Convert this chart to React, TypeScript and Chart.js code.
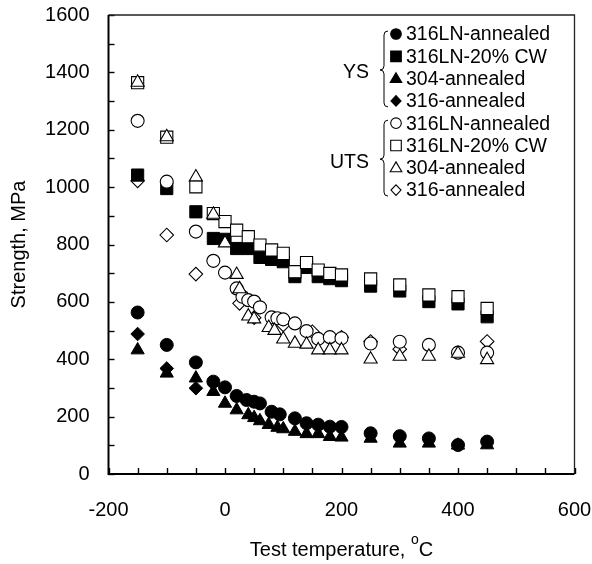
import React, { useEffect, useRef } from 'react';
import { Chart, registerables } from 'chart.js';

Chart.register(...registerables);

// ---- Data (temperature °C, strength MPa) ----
const ys316LNAnnT = [-150, -100, -50, -20, 0, 20, 37, 50, 60, 80, 94, 120, 140, 160, 180, 200, 250, 300, 350, 400, 450];
const ys316LNAnn = [563, 450, 389, 322, 302, 272, 258, 252, 246, 217, 208, 194, 177, 172, 165, 164, 142, 132, 124, 101, 113];

const ys316LNCWT = [-150, -100, -50, -20, 0, 20, 40, 60, 80, 100, 120, 140, 160, 180, 200, 250, 300, 350, 400, 450];
const ys316LNCW = [1042, 995, 914, 821, 818, 786, 786, 755, 748, 740, 688, 720, 688, 681, 674, 655, 638, 601, 593, 548];

const ys304AnnT = [-150, -100, -50, -20, 0, 20, 40, 50, 60, 75, 90, 100, 120, 140, 160, 180, 200, 250, 300, 350, 400, 450];
const ys304Ann = [432, 351, 334, 287, 246, 223, 206, 196, 185, 172, 162, 157, 148, 140, 140, 130, 128, 124, 107, 107, 100, 101];

const ys316AnnT = [-150, -100, -50];
const ys316Ann = [488, 368, 299];

const uts316LNAnnT = [-150, -100, -50, -20, 0, 20, 30, 40, 50, 60, 80, 90, 100, 120, 140, 160, 180, 200, 250, 300, 350, 400, 450];
const uts316LNAnn = [1231, 1019, 845, 743, 702, 647, 618, 606, 601, 581, 546, 543, 539, 525, 498, 471, 477, 473, 455, 461, 450, 423, 423];

const uts316LNCWT = [-150, -100, -50, -20, 0, 20, 40, 60, 80, 100, 120, 140, 160, 180, 200, 250, 300, 350, 400, 450];
const uts316LNCW = [1364, 1174, 1001, 908, 880, 850, 827, 798, 781, 769, 705, 737, 711, 699, 694, 680, 659, 624, 618, 577];

const uts304AnnT = [-150, -100, -50, -20, 0, 20, 25, 40, 50, 75, 85, 100, 120, 140, 160, 180, 200, 250, 300, 350, 400, 450];
const uts304Ann = [1365, 1175, 1035, 905, 805, 695, 645, 550, 540, 510, 500, 470, 455, 452, 432, 432, 432, 400, 410, 410, 420, 398];

const uts316AnnT = [-150, -100, -50, 25, 50, 100, 150, 200, 250, 300, 450];
const uts316Ann = [1022, 833, 697, 595, 545, 520, 496, 476, 462, 435, 462];

const xTickLabels = [-200, 0, 200, 400, 600];
const yTickLabels = [0, 200, 400, 600, 800, 1000, 1200, 1400, 1600];

const legendNames = ['316LN-annealed', '316LN-20% CW', '304-annealed', '316-annealed'];
const groupNames = ['YS', 'UTS'];

const FONT = '"Liberation Sans", Arial, Helvetica, sans-serif';

type Shape = 'circle' | 'rect' | 'triangle' | 'rectRot';

const pts = (t: number[], v: number[]) => t.map((x, i) => ({ x, y: v[i] }));

const radiusFor: Record<Shape, number> = { circle: 6.5, rect: 8.6, triangle: 7.6, rectRot: 6.8 };

function drawMarker(ctx: CanvasRenderingContext2D, shape: Shape, x: number, y: number, filled: boolean, s: number) {
  ctx.beginPath();
  if (shape === 'circle') {
    ctx.arc(x, y, s, 0, Math.PI * 2);
  } else if (shape === 'rect') {
    ctx.rect(x - s, y - s, 2 * s, 2 * s);
  } else if (shape === 'triangle') {
    const h = s * 1.7;
    ctx.moveTo(x, y - h * 0.6);
    ctx.lineTo(x + s, y + h * 0.4);
    ctx.lineTo(x - s, y + h * 0.4);
    ctx.closePath();
  } else {
    ctx.moveTo(x, y - s);
    ctx.lineTo(x + s * 0.95, y);
    ctx.lineTo(x, y + s);
    ctx.lineTo(x - s * 0.95, y);
    ctx.closePath();
  }
  ctx.fillStyle = filled ? '#000' : '#fff';
  ctx.fill();
  ctx.lineWidth = 1.1;
  ctx.strokeStyle = '#000';
  ctx.stroke();
}

function brace(ctx: CanvasRenderingContext2D, xr: number, top: number, bot: number, cusp: number) {
  const xm = xr - 4;
  const xc = xr - 8;
  ctx.beginPath();
  ctx.moveTo(xr, top);
  ctx.quadraticCurveTo(xm, top, xm, top + 4);
  ctx.lineTo(xm, cusp - 4);
  ctx.quadraticCurveTo(xm, cusp, xc, cusp);
  ctx.quadraticCurveTo(xm, cusp, xm, cusp + 4);
  ctx.lineTo(xm, bot - 4);
  ctx.quadraticCurveTo(xm, bot, xr, bot);
  ctx.lineWidth = 1;
  ctx.strokeStyle = '#000';
  ctx.stroke();
}

const shapes: Shape[] = ['circle', 'rect', 'triangle', 'rectRot'];

const decorPlugin = {
  id: 'decor',
  beforeDatasetsDraw(chart: any) {
    const { ctx, chartArea } = chart;
    const { left, right, top, bottom } = chartArea;
    const xs = chart.scales.x;
    const ys = chart.scales.y;
    ctx.save();
    ctx.strokeStyle = '#000';
    ctx.lineWidth = 1.4;
    for (let v = xs.min; v <= xs.max; v += 50) {
      const px = Math.round(xs.getPixelForValue(v)) + 0.5;
      ctx.beginPath();
      ctx.moveTo(px, bottom);
      ctx.lineTo(px, bottom - 6);
      ctx.stroke();
    }
    for (let v = ys.min; v <= ys.max; v += 100) {
      const py = Math.round(ys.getPixelForValue(v)) + 0.5;
      ctx.beginPath();
      ctx.moveTo(left, py);
      ctx.lineTo(left + 6, py);
      ctx.stroke();
    }
    // frame
    ctx.lineWidth = 1.3;
    ctx.strokeStyle = '#222';
    ctx.beginPath();
    ctx.moveTo(left, top);
    ctx.lineTo(right, top);
    ctx.lineTo(right, bottom);
    ctx.stroke();
    ctx.lineWidth = 2;
    ctx.strokeStyle = '#000';
    ctx.beginPath();
    ctx.moveTo(left, top);
    ctx.lineTo(left, bottom);
    ctx.lineTo(right, bottom);
    ctx.stroke();
    ctx.restore();
  },
  afterDraw(chart: any) {
    const { ctx, chartArea } = chart;
    const { left, right, top, bottom } = chartArea;
    ctx.save();
    ctx.fillStyle = '#000';
    // axis titles
    const TS = 20;
    ctx.font = `${TS}px ${FONT}`;
    ctx.textBaseline = 'middle';
    const t1 = 'Test temperature, ';
    const w1 = ctx.measureText(t1).width;
    ctx.font = `14px ${FONT}`;
    const wo = ctx.measureText('o').width;
    ctx.font = `${TS}px ${FONT}`;
    const wc = ctx.measureText('C').width;
    const total = w1 + wo + wc;
    const sx = (left + right) / 2 - total / 2;
    const ty = 550;
    ctx.textAlign = 'left';
    ctx.fillText(t1, sx, ty);
    ctx.font = `14px ${FONT}`;
    ctx.fillText('o', sx + w1, ty - 10);
    ctx.font = `${TS}px ${FONT}`;
    ctx.fillText('C', sx + w1 + wo, ty);

    ctx.save();
    ctx.translate(19, (top + bottom) / 2);
    ctx.rotate(-Math.PI / 2);
    ctx.textAlign = 'center';
    ctx.fillText('Strength, MPa', 0, 0);
    ctx.restore();

    // legend
    const rowY0 = 34;
    const rowH = 22.3;
    const mx = 396;
    const tx = 406;
    ctx.font = `19.5px ${FONT}`;
    for (let g = 0; g < 2; g++) {
      for (let i = 0; i < 4; i++) {
        const y = rowY0 + (g * 4 + i) * rowH;
        const s = shapes[i];
        const sz = s === 'triangle' ? 5.8 : 5.3;
        drawMarker(ctx, s, mx, y, g === 0, sz);
        ctx.fillStyle = '#000';
        ctx.textAlign = 'left';
        ctx.textBaseline = 'middle';
        ctx.fillText(legendNames[i], tx, y + 1);
      }
      const topY = rowY0 + g * 4 * rowH - 3;
      const botY = rowY0 + (g * 4 + 3) * rowH + 6;
      const cusp = (topY + botY) / 2 + 1;
      brace(ctx, 388, topY, botY, cusp);
      ctx.textAlign = 'right';
      ctx.fillStyle = '#000';
      ctx.fillText(groupNames[g], 369, cusp + 3);
    }
    ctx.restore();
  },
};

export default function App() {
  const ref = useRef<HTMLCanvasElement | null>(null);
  useEffect(() => {
    if (!ref.current) return;
    const mk = (data: { x: number; y: number }[], shape: Shape, filled: boolean, order: number) => ({
      data,
      pointStyle: shape,
      pointRadius: radiusFor[shape],
      pointBackgroundColor: filled ? '#000' : '#fff',
      pointBorderColor: '#000',
      pointBorderWidth: filled ? 1 : 1.1,
      showLine: false,
      order,
    });
    const chart = new Chart(ref.current, {
      type: 'scatter',
      data: {
        datasets: [
          mk(pts(ys316AnnT, ys316Ann), 'rectRot', true, 8),
          mk(pts(ys304AnnT, ys304Ann), 'triangle', true, 7),
          mk(pts(ys316LNAnnT, ys316LNAnn), 'circle', true, 6),
          mk(pts(uts316AnnT, uts316Ann), 'rectRot', false, 5),
          mk(pts(ys316LNCWT, ys316LNCW), 'rect', true, 4),
          mk(pts(uts316LNCWT, uts316LNCW), 'rect', false, 3),
          mk(pts(uts316LNAnnT, uts316LNAnn), 'circle', false, 2),
          mk(pts(uts304AnnT, uts304Ann), 'triangle', false, 1),
        ] as any,
      },
      options: {
        animation: false,
        responsive: false,
        layout: { padding: { left: 8, right: 17.5, top: 15, bottom: 0 } },
        plugins: { legend: { display: false }, tooltip: { enabled: false } },
        scales: {
          x: {
            type: 'linear',
            min: -200,
            max: 600,
            afterFit: (s: any) => { s.height = 90; s.paddingLeft = 0; s.paddingRight = 0; },
            afterBuildTicks: (s: any) => { s.ticks = xTickLabels.map((v) => ({ value: v })); },
            grid: { display: false, drawTicks: false },
            border: { display: false },
            ticks: { color: '#000', font: { family: FONT, size: 20 }, padding: 24, maxRotation: 0, callback: (v: any) => String(v) },
          },
          y: {
            type: 'linear',
            min: 0,
            max: 1600,
            afterFit: (s: any) => { s.width = 100.5; s.paddingTop = 0; s.paddingBottom = 0; },
            afterBuildTicks: (s: any) => { s.ticks = yTickLabels.map((v) => ({ value: v })); },
            grid: { display: false, drawTicks: false },
            border: { display: false },
            ticks: { color: '#000', font: { family: FONT, size: 20 }, padding: 19, callback: (v: any) => String(v) },
          },
        },
      },
      plugins: [decorPlugin],
    });
    return () => chart.destroy();
  }, []);
  return (
    <div style={{ position: 'absolute', left: 0, top: 0, width: 592, height: 564, background: '#fff' }}>
      <canvas ref={ref} width={592} height={564} style={{ width: 592, height: 564 }} />
    </div>
  );
}
